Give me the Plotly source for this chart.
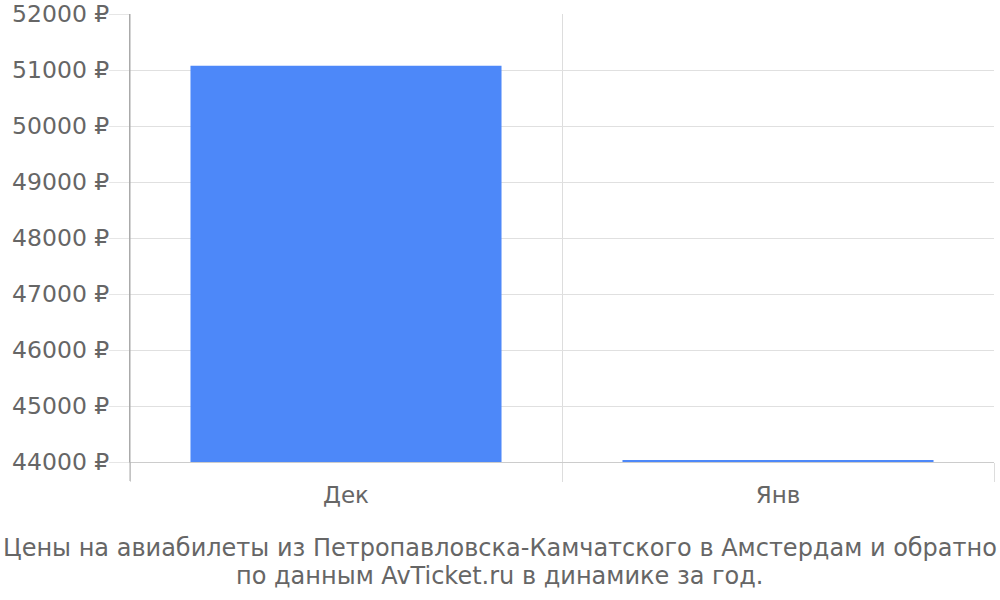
import plotly.graph_objects as go

months = ["Дек", "Янв"]
prices = [51075, 44035]
y_ticks = [44000, 45000, 46000, 47000, 48000, 49000, 50000, 51000, 52000]
y_tick_labels = [f"{v} ₽" for v in y_ticks]
title_lines = ["Цены на авиабилеты из Петропавловска-Камчатского в Амстердам и обратно",
               "по данным AvTicket.ru в динамике за год."]

fig = go.Figure()
fig.add_trace(go.Bar(x=months, y=prices, marker=dict(color="#4d88f9", line=dict(width=0)),
                     width=0.72, hoverinfo="skip"))

title_y = [-0.192, -0.2545]

fig.update_layout(
    width=1000, height=600,
    margin=dict(l=130, r=6, t=14, b=138, autoexpand=False),
    paper_bgcolor="white", plot_bgcolor="white",
    font=dict(family="DejaVu Sans", size=23, color="#666666"),
    showlegend=False,
    xaxis=dict(
        tickson="boundaries", ticks="outside", ticklen=19, tickcolor="#dddddd", tickwidth=1,
        showgrid=True, gridcolor="#dddddd", gridwidth=1, ticklabelstandoff=12,
        showline=True, linecolor="#cccccc", linewidth=1, automargin=False,
        tickfont=dict(size=23, color="#666666"),
    ),
    yaxis=dict(
        range=[44000, 52000], tickvals=y_ticks, ticktext=y_tick_labels,
        ticks="outside", ticklen=20, tickcolor="#e6e6e6", automargin=False,
        ticklabelstandoff=-5,
        showgrid=True, gridcolor="#e0e0e0", gridwidth=1,
        showline=True, linecolor="#aaaaaa", linewidth=1,
        zeroline=False, tickfont=dict(size=23.5, color="#666666"),
    ),
    annotations=[dict(
        text=t, xref="paper", yref="paper",
        x=0.4282, y=yy, xanchor="center", yanchor="middle", showarrow=False,
        font=dict(size=24, color="#666666"), align="center",
    ) for t, yy in zip(title_lines, title_y)],
    shapes=[dict(type="line", xref="paper", yref="paper", x0=0, x1=0, y0=-0.0424, y1=1,
                 line=dict(color="#aaaaaa", width=1))],
)

fig.write_html("out.html", config={"displayModeBar": False},
               post_script="document.body.style.margin='0';")
